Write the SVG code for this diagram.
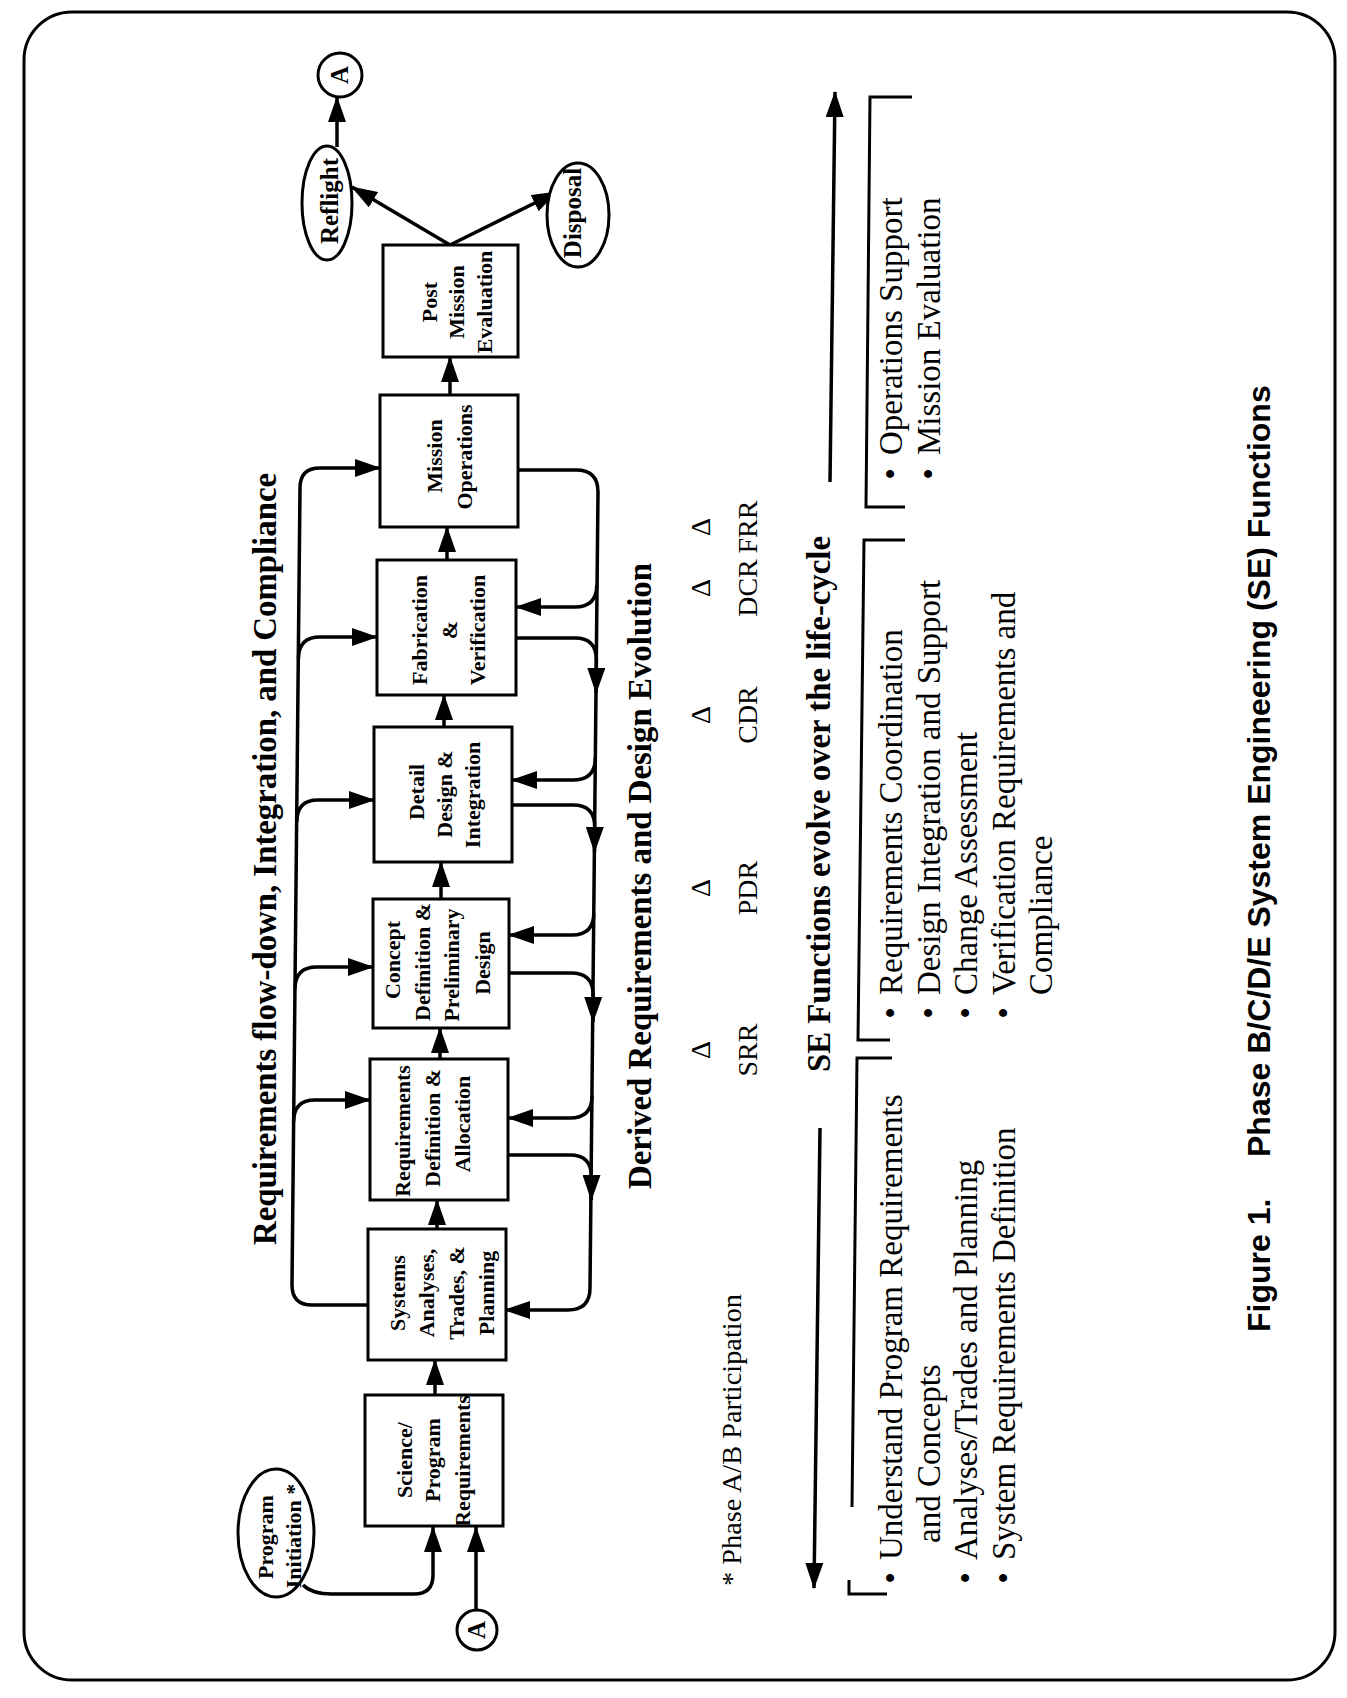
<svg xmlns="http://www.w3.org/2000/svg" width="1347" height="1698" viewBox="0 0 1347 1698">
<defs>
<style>
.bx{fill:#fff;stroke:#000;stroke-width:3}
.el{fill:#fff;stroke:#000;stroke-width:3}
.ln{fill:none;stroke:#000;stroke-width:3.5}
.ar{fill:none;stroke:#000;stroke-width:3.5;marker-end:url(#ah)}
.br{fill:none;stroke:#000;stroke-width:3}
text{font-family:"Liberation Serif","Times New Roman",serif;fill:#000}
.bt{font-weight:bold;font-size:22px;text-anchor:middle}
.et{font-weight:bold;font-size:25px;text-anchor:middle}
.ttl{font-weight:bold;font-size:33px;text-anchor:middle}
.lst{font-size:33px}
.bul{font-size:33px;text-anchor:middle}
.ms{font-size:28px;text-anchor:middle}
.cap{font-family:"Liberation Sans",Arial,sans-serif;font-weight:bold;font-size:32px}
</style>
<marker id="ah" viewBox="0 0 26 18" refX="25" refY="9" markerWidth="26" markerHeight="18" markerUnits="userSpaceOnUse" orient="auto"><path d="M0,0 L26,9 L0,18 z" fill="#000"/></marker>
</defs>
<rect x="0" y="0" width="1347" height="1698" fill="#fff"/>
<rect id="border" x="24" y="12" width="1311" height="1668" rx="48" ry="48" fill="none" stroke="#000" stroke-width="3"/>

<g id="connectors">
  <!-- main flow -->
  <path class="ar" d="M435,1395 L435,1360"/>
  <path class="ar" d="M437,1229 L437,1200"/>
  <path class="ar" d="M440,1059 L440,1028"/>
  <path class="ar" d="M441,899 L441,862"/>
  <path class="ar" d="M444,727 L444,695"/>
  <path class="ar" d="M447,560 L447,527"/>
  <path class="ar" d="M450,395 L450,357"/>
  <path class="ar" d="M450,245 L352,187"/>
  <path class="ar" d="M450,245 L557,192"/>
  <path class="ar" d="M337,147 L337,97"/>
  <path class="ar" d="M303,1585 Q312,1594 332,1594 L414,1594 Q433,1594 433,1575 L433,1527"/>
  <path class="ar" d="M476,1610 L476,1527"/>
  <!-- top loop: requirements flow-down -->
  <path class="ar" d="M368,1305 L312,1305 Q292,1305 292,1285 L300,488 Q300,468 320,468 L380,468"/>
  <path class="ar" d="M293.6,1122 Q293.6,1100 315,1100 L370,1100"/>
  <path class="ar" d="M295,989 Q295,967 317,967 L373,967"/>
  <path class="ar" d="M296.8,822 Q296.8,800 318,800 L374,800"/>
  <path class="ar" d="M298.4,659 Q298.4,637 320,637 L377,637"/>
  <!-- bottom loop: derived requirements -->
  <path class="ar" d="M518,470 L576,470 Q598,470 598,492 L590,1288 Q590,1310 568,1310 L505,1310"/>
  <path class="ar" d="M596.8,585 Q596.8,607 575,607 L516,607"/>
  <path class="ar" d="M516,638 L575,638 Q596.4,638 596.4,660 L596.1,693"/>
  <path class="ar" d="M595.3,758 Q595.3,780 573,780 L512,780"/>
  <path class="ar" d="M512,805 L573,805 Q594.8,805 594.8,827 L594.5,852"/>
  <path class="ar" d="M593.8,913 Q593.8,935 572,935 L509,935"/>
  <path class="ar" d="M509,973 L571,973 Q593.2,973 593.2,995 L593,1022"/>
  <path class="ar" d="M592,1096 Q592,1118 570,1118 L508,1118"/>
  <path class="ar" d="M508,1155 L570,1155 Q591.5,1155 591.5,1177 L591.3,1200"/>
  <!-- SE life-cycle arrows -->
  <path class="ar" d="M820,1128 L814,1588"/>
  <path class="ar" d="M830,482 L835,92"/>
</g>

<g id="brackets">
  <path class="br" d="M912,97 L870,97 L866,507 L905,507"/>
  <path class="br" d="M905,540 L864,540 L858,1040 L890,1040"/>
  <path class="br" d="M892,1058 L857,1058 L852,1507"/>
  <path class="br" d="M849,1580 L849,1594 L887,1594"/>
</g>

<g id="n-init">
  <ellipse class="el" cx="276" cy="1533" rx="38" ry="64"/>
  <text class="bt" transform="translate(273,1537) rotate(-90)">Program</text>
  <text class="bt" transform="translate(301,1536) rotate(-90)">Initiation *</text>
</g>
<g id="n-a-in">
  <circle class="el" cx="477" cy="1630" r="20"/>
  <text class="et" font-size="24" transform="translate(485,1630) rotate(-90)">A</text>
</g>
<g id="n-science">
  <rect class="bx" x="365" y="1395" width="138" height="131"/>
  <text class="bt" transform="translate(412,1460) rotate(-90)">Science/</text>
  <text class="bt" transform="translate(440,1460) rotate(-90)">Program</text>
  <text class="bt" transform="translate(470,1461) rotate(-90)">Requirements</text>
</g>
<g id="n-systems">
  <rect class="bx" x="368" y="1229" width="138" height="131"/>
  <text class="bt" transform="translate(405,1293) rotate(-90)">Systems</text>
  <text class="bt" transform="translate(434,1293) rotate(-90)">Analyses,</text>
  <text class="bt" transform="translate(464,1293) rotate(-90)">Trades, &amp;</text>
  <text class="bt" transform="translate(494,1293) rotate(-90)">Planning</text>
</g>
<g id="n-reqdef">
  <rect class="bx" x="370" y="1059" width="138" height="141"/>
  <text class="bt" transform="translate(410,1131) rotate(-90)">Requirements</text>
  <text class="bt" transform="translate(440,1128) rotate(-90)">Definition &amp;</text>
  <text class="bt" transform="translate(470,1124) rotate(-90)">Allocation</text>
</g>
<g id="n-concept">
  <rect class="bx" x="373" y="899" width="136" height="129"/>
  <text class="bt" transform="translate(400,960) rotate(-90)">Concept</text>
  <text class="bt" transform="translate(430,962) rotate(-90)">Definition &amp;</text>
  <text class="bt" transform="translate(459,965) rotate(-90)">Preliminary</text>
  <text class="bt" transform="translate(490,963) rotate(-90)">Design</text>
</g>
<g id="n-detail">
  <rect class="bx" x="374" y="727" width="138" height="135"/>
  <text class="bt" transform="translate(424,792) rotate(-90)">Detail</text>
  <text class="bt" transform="translate(452,794) rotate(-90)">Design &amp;</text>
  <text class="bt" transform="translate(480,795) rotate(-90)">Integration</text>
</g>
<g id="n-fab">
  <rect class="bx" x="377" y="560" width="139" height="135"/>
  <text class="bt" transform="translate(427,630) rotate(-90)">Fabrication</text>
  <text class="bt" transform="translate(457,630) rotate(-90)">&amp;</text>
  <text class="bt" transform="translate(485,630) rotate(-90)">Verification</text>
</g>
<g id="n-mission">
  <rect class="bx" x="380" y="395" width="138" height="132"/>
  <text class="bt" transform="translate(442,456) rotate(-90)">Mission</text>
  <text class="bt" transform="translate(472,457) rotate(-90)">Operations</text>
</g>
<g id="n-post">
  <rect class="bx" x="383" y="245" width="135" height="112"/>
  <text class="bt" transform="translate(437,302) rotate(-90)">Post</text>
  <text class="bt" transform="translate(464,302) rotate(-90)">Mission</text>
  <text class="bt" transform="translate(492,302) rotate(-90)">Evaluation</text>
</g>
<g id="n-reflight">
  <ellipse class="el" cx="327" cy="203" rx="25" ry="57"/>
  <text class="et" transform="translate(338,201) rotate(-90)">Reflight</text>
</g>
<g id="n-disposal">
  <ellipse class="el" cx="578" cy="215" rx="31" ry="52"/>
  <text class="et" font-weight="normal" transform="translate(581,213) rotate(-90)">Disposal</text>
</g>
<g id="n-a-out">
  <circle class="el" cx="340" cy="75" r="22"/>
  <text class="et" font-size="24" transform="translate(348,75) rotate(-90)">A</text>
</g>

<g id="labels">
  <text class="ttl" transform="translate(276,859) rotate(-90)" textLength="772" lengthAdjust="spacingAndGlyphs">Requirements flow-down, Integration, and Compliance</text>
  <text class="ttl" transform="translate(651,876) rotate(-90)" textLength="626" lengthAdjust="spacingAndGlyphs">Derived Requirements and Design Evolution</text>
  <text class="ttl" transform="translate(830,804) rotate(-90)" textLength="536" lengthAdjust="spacingAndGlyphs">SE Functions evolve over the life-cycle</text>
  <text class="ms" transform="translate(741,1440) rotate(-90)" textLength="292" lengthAdjust="spacingAndGlyphs">* Phase A/B Participation</text>
</g>

<g id="milestones">
  <text class="ms" transform="translate(710,1050) rotate(-90)">Δ</text>
  <text class="ms" transform="translate(710,888) rotate(-90)">Δ</text>
  <text class="ms" transform="translate(710,715) rotate(-90)">Δ</text>
  <text class="ms" transform="translate(710,588) rotate(-90)">Δ</text>
  <text class="ms" transform="translate(710,527) rotate(-90)">Δ</text>
  <text class="ms" transform="translate(757,1050) rotate(-90)">SRR</text>
  <text class="ms" transform="translate(757,888) rotate(-90)">PDR</text>
  <text class="ms" transform="translate(757,715) rotate(-90)">CDR</text>
  <text class="ms" transform="translate(757,588) rotate(-90)">DCR</text>
  <text class="ms" transform="translate(757,527) rotate(-90)">FRR</text>
</g>

<g id="list-early">
  <text class="bul" transform="translate(902,1578) rotate(-90)">•</text>
  <text class="lst" transform="translate(902,1560) rotate(-90)">Understand Program Requirements</text>
  <text class="lst" transform="translate(940,1543) rotate(-90)">and Concepts</text>
  <text class="bul" transform="translate(977,1578) rotate(-90)">•</text>
  <text class="lst" transform="translate(977,1560) rotate(-90)">Analyses/Trades and Planning</text>
  <text class="bul" transform="translate(1015,1578) rotate(-90)">•</text>
  <text class="lst" transform="translate(1015,1560) rotate(-90)">System Requirements Definition</text>
</g>
<g id="list-mid">
  <text class="bul" transform="translate(902,1013) rotate(-90)">•</text>
  <text class="lst" transform="translate(902,995) rotate(-90)">Requirements Coordination</text>
  <text class="bul" transform="translate(940,1013) rotate(-90)">•</text>
  <text class="lst" transform="translate(940,995) rotate(-90)">Design Integration and Support</text>
  <text class="bul" transform="translate(977,1013) rotate(-90)">•</text>
  <text class="lst" transform="translate(977,995) rotate(-90)">Change Assessment</text>
  <text class="bul" transform="translate(1015,1013) rotate(-90)">•</text>
  <text class="lst" transform="translate(1015,995) rotate(-90)">Verification Requirements and</text>
  <text class="lst" transform="translate(1052,995) rotate(-90)">Compliance</text>
</g>
<g id="list-late">
  <text class="bul" transform="translate(902,474) rotate(-90)">•</text>
  <text class="lst" transform="translate(902,455) rotate(-90)">Operations Support</text>
  <text class="bul" transform="translate(940,474) rotate(-90)">•</text>
  <text class="lst" transform="translate(940,455) rotate(-90)">Mission Evaluation</text>
</g>

<g id="caption">
  <text class="cap" transform="translate(1270,1332) rotate(-90)"><tspan x="0">Figure 1.</tspan><tspan x="175">Phase B/C/D/E System Engineering (SE) Functions</tspan></text>
</g>
</svg>
